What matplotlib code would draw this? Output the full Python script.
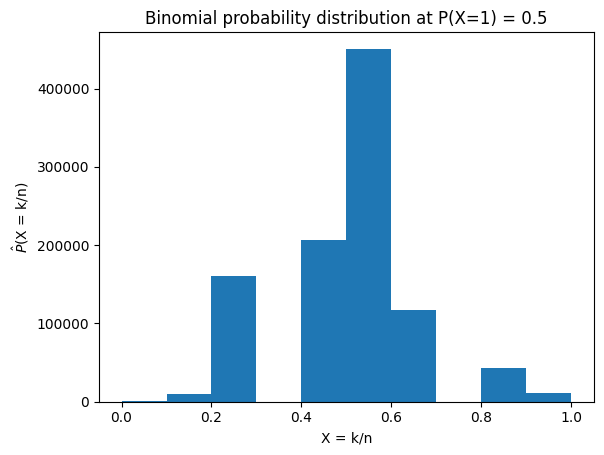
import matplotlib
matplotlib.use("Agg")
import matplotlib.pyplot as plt
import numpy as np

bin_edges = [0.0, 0.1, 0.2, 0.3, 0.4, 0.5, 0.6, 0.7, 0.8, 0.9, 1.0]
counts = [1000, 10000, 161000, 0, 206000, 450000, 117000, 0, 43000, 11000]

centers = [(bin_edges[i] + bin_edges[i + 1]) / 2 for i in range(len(counts))]

fig, ax = plt.subplots(figsize=(6.04, 4.55), dpi=100)
ax.hist(centers, bins=bin_edges, weights=counts, color="#1f77b4")
ax.set_title("Binomial probability distribution at P(X=1) = 0.5")
ax.set_xlabel("X = k/n")
ax.set_ylabel(r"$\hat{P}$(X = k/n)")
fig.subplots_adjust(left=0.164, right=0.983, top=0.930, bottom=0.117)
fig.savefig("out.png")
